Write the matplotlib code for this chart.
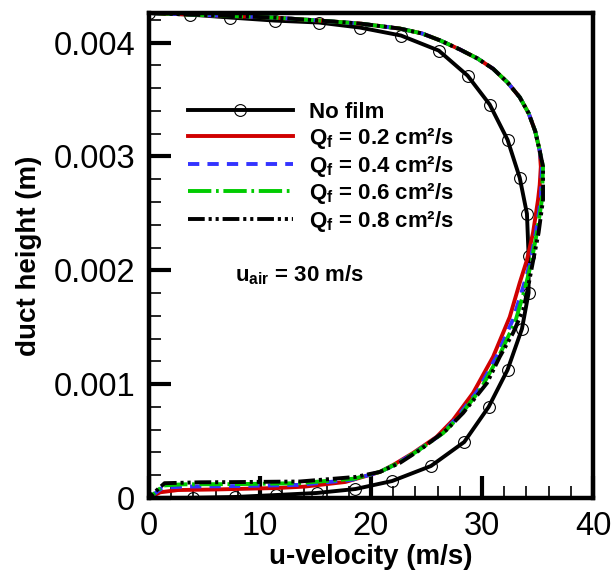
import matplotlib
matplotlib.use("Agg")
import matplotlib.pyplot as plt
from matplotlib.ticker import MultipleLocator, FuncFormatter

plt.rcParams['font.family'] = ['Liberation Sans', 'DejaVu Sans']
plt.rcParams['mathtext.fontset'] = 'custom'
plt.rcParams['mathtext.rm'] = 'Liberation Sans'
plt.rcParams['mathtext.bf'] = 'Liberation Sans:bold'
plt.rcParams['mathtext.it'] = 'Liberation Sans:italic'

# velocity profiles: u (m/s) vs duct height (m)
nofilm_u = [0.0, 3.7, 7.3, 11.35, 15.3, 19.0, 22.7, 26.1, 28.7, 30.7, 32.3, 33.4,
            34.05, 34.2, 34.2, 33.6, 32.3, 30.6, 28.4, 25.4, 21.9, 18.6, 15.1,
            11.4, 7.75, 4.0, 0.0]
nofilm_h = [0.00426, 0.004246, 0.00422, 0.004193, 0.004176, 0.004132, 0.004062,
            0.00393, 0.00371, 0.003455, 0.003147, 0.002813, 0.002497, 0.002127,
            0.001802, 0.001486, 0.001125, 0.0008, 0.000492, 0.000281, 0.000149,
            0.000079, 0.000044, 0.000026, 0.000009, 0.000002, 0.0]

# upper part, shared by all film cases
top_u = [0.0, 3.7, 11.2, 15.4, 19.0, 22.6, 24.6, 26.2, 28.0, 29.6, 31.0, 32.3,
         33.4, 34.2, 34.8, 35.2]
top_h = [0.00426, 0.004246, 0.00422, 0.004193, 0.004167, 0.004123, 0.00408,
         0.00402, 0.00394, 0.00386, 0.00377, 0.00365, 0.00352, 0.00338,
         0.00322, 0.00305]

q02_u = top_u + [35.3, 35.2, 35.05, 34.6, 34.05, 33.4, 32.5, 31.0, 29.2, 27.4,
                 25.9, 23.8, 22.0, 20.8, 17.7, 14.0, 11.6, 6.0, 2.6, 1.0, 0.0]
q02_h = top_h + [0.00291, 0.00275, 0.00262, 0.00233, 0.00209, 0.00189, 0.00159,
                 0.00124, 0.000923, 0.000686, 0.000536, 0.000396, 0.00029,
                 0.000229, 0.000141, 0.0001, 0.000088, 0.000075, 0.00007,
                 0.00005, 0.0]

q04_u = top_u + [35.4, 35.3, 34.85, 34.3, 33.7, 32.8, 31.3, 29.6, 27.7, 26.2,
                 24.1, 22.3, 20.8, 18.3, 13.5, 8.0, 3.0, 1.2, 0.0]
q04_h = top_h + [0.00291, 0.00262, 0.00233, 0.00205, 0.00185, 0.00157, 0.00124,
                 0.00094, 0.0007, 0.00055, 0.00041, 0.0003, 0.000229, 0.00016,
                 0.000115, 0.000105, 0.0001, 0.00009, 0.0]

q06_u = top_u + [35.5, 35.4, 34.95, 34.4, 33.85, 33.0, 31.5, 29.9, 28.0, 26.5,
                 24.3, 22.5, 20.8, 18.5, 13.5, 8.0, 3.0, 1.3, 0.0]
q06_h = top_h + [0.00291, 0.00262, 0.00233, 0.00205, 0.00183, 0.00155, 0.00124,
                 0.00096, 0.00072, 0.00057, 0.00042, 0.00031, 0.000229, 0.00017,
                 0.00013, 0.000122, 0.00012, 0.00011, 0.0]

q08_u = top_u + [35.5, 35.5, 35.1, 34.5, 34.05, 33.7, 32.8, 31.6, 30.45, 28.3,
                 26.8, 24.4, 22.6, 20.8, 18.6, 13.6, 8.0, 4.6, 1.4, 0.5, 0.0]
q08_h = top_h + [0.00291, 0.00262, 0.00233, 0.00203, 0.0018, 0.00165, 0.00145,
                 0.00124, 0.00101, 0.000747, 0.000598, 0.000422, 0.000308,
                 0.000229, 0.000185, 0.000145, 0.00014, 0.000138, 0.00013,
                 0.00005, 0.0]

labels = ['No film',
          r'$\mathbf{Q_f}$ = 0.2 cm²/s',
          r'$\mathbf{Q_f}$ = 0.4 cm²/s',
          r'$\mathbf{Q_f}$ = 0.6 cm²/s',
          r'$\mathbf{Q_f}$ = 0.8 cm²/s']

fig = plt.figure(figsize=(6.15, 5.74), dpi=100)
ax = fig.add_axes([0.2423, 0.1324, 0.7219, 0.845])

lw = 2.8
ax.plot(nofilm_u, nofilm_h, color='black', lw=lw, marker='o', ms=8.5,
        mfc='none', mec='black', mew=0.8, label=labels[0])
ax.plot(q02_u, q02_h, color='#d00000', lw=lw, label=labels[1])
ax.plot(q04_u, q04_h, color='#3333ff', lw=lw, ls=(0, (2.9, 2.1)), label=labels[2])
ax.plot(q06_u, q06_h, color='#00cc00', lw=lw, ls=(0, (6.0, 1.2, 0.7, 1.2)),
        label=labels[3])
ax.plot(q08_u, q08_h, color='black', lw=lw,
        ls=(0, (4.3, 1.0, 0.8, 1.0, 0.8, 1.0)), label=labels[4])

ax.set_xlim(0, 40)
ax.set_ylim(0, 0.00426)
ax.xaxis.set_major_locator(MultipleLocator(10))
ax.xaxis.set_minor_locator(MultipleLocator(2))
ax.yaxis.set_major_locator(MultipleLocator(0.001))
ax.yaxis.set_minor_locator(MultipleLocator(0.0002))
ax.yaxis.set_major_formatter(FuncFormatter(lambda v, p: '0' if abs(v) < 1e-12 else f'{v:.3f}'))

ax.tick_params(which='both', direction='in', top=False, right=False,
               labelsize=23.5)
ax.tick_params(which='major', length=16, width=3)
ax.tick_params(which='minor', length=8.5, width=1.2)
ax.tick_params(axis='x', pad=9)
ax.tick_params(axis='y', pad=10)
for sp in ax.spines.values():
    sp.set_linewidth(3.2)

ax.set_xlabel('u-velocity (m/s)', fontsize=20, fontweight='bold', labelpad=2)
ax.set_ylabel('duct height (m)', fontsize=20, fontweight='bold', labelpad=8)

leg = ax.legend(loc='upper left', bbox_to_anchor=(0.088, 0.816), frameon=False,
                prop={'size': 16, 'weight': 'bold'}, handlelength=4.7,
                handletextpad=0.72, labelspacing=0.12, borderpad=0,
                borderaxespad=0)

ax.text(0.194, 0.46, r'u$_\mathbf{air}$ = 30 m/s', transform=ax.transAxes,
        fontsize=16, fontweight='bold', va='center', ha='left')

fig.savefig('out.png', dpi=100)
